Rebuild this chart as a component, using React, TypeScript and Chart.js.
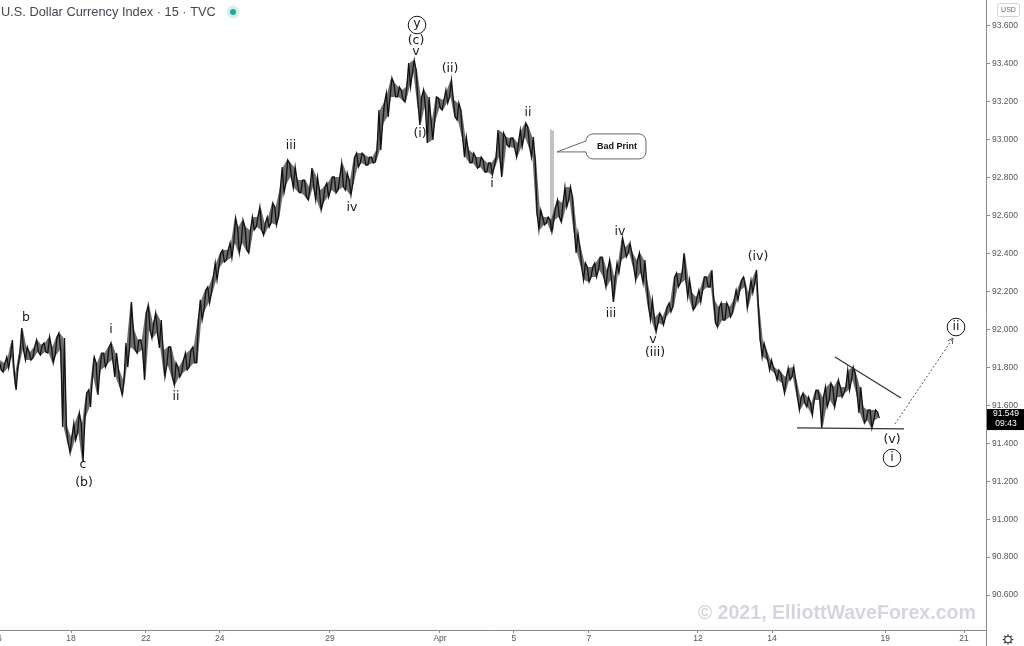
import React, { useEffect, useRef } from "react";
import { Chart, registerables } from "chart.js";

Chart.register(...registerables);

// ---- data (x in trading sessions since Mar 16, price in index points) ----
const X_START = 0.1;
const X_STEP = 0.1;

const highs = [
  91.839, 91.824, 91.855, 91.945, 91.771, 91.876, 92.008, 91.908, 91.881, 91.908,
  91.945, 91.918, 91.929, 91.961, 91.908, 91.961, 91.982, 91.955, 91.486, 91.433,
  91.507, 91.56, 91.507, 91.665, 91.681, 91.855, 91.824, 91.876, 91.876, 91.908,
  91.929, 91.876, 91.787, 91.734, 91.929, 92.145, 91.997, 91.945, 91.945, 92.087,
  92.129, 92.034, 92.087, 92.05, 91.892, 91.908, 91.908, 91.824, 91.802, 91.839,
  91.876, 91.892, 91.908, 92.05, 92.156, 92.208, 92.224, 92.277, 92.351, 92.403,
  92.419, 92.419, 92.456, 92.588, 92.54, 92.577, 92.54, 92.525, 92.593, 92.593,
  92.646, 92.561, 92.593, 92.667, 92.646, 92.735, 92.857, 92.894, 92.878, 92.857,
  92.788, 92.788, 92.788, 92.751, 92.851, 92.804, 92.735, 92.751, 92.772, 92.804,
  92.804, 92.804, 92.878, 92.825, 92.788, 92.909, 92.93, 92.93, 92.92, 92.909,
  92.909, 92.946, 93.157, 93.194, 93.247, 93.326, 93.299, 93.278, 93.263, 93.278,
  93.405, 93.421, 93.368, 93.226, 93.263, 93.226, 93.104, 93.226, 93.22, 93.21,
  93.263, 93.315, 93.21, 93.194, 93.157, 93.015, 92.946, 92.93, 92.909, 92.909,
  92.894, 92.878, 92.878, 92.909, 93.052, 93.036, 93.015, 93.01, 93.01, 92.983,
  93.052, 93.089, 93.068, 93.015, 92.894, 92.63, 92.593, 92.593, 92.577, 92.646,
  92.683, 92.667, 92.751, 92.751, 92.699, 92.509, 92.435, 92.351, 92.33, 92.33,
  92.351, 92.382, 92.382, 92.314, 92.366, 92.277, 92.351, 92.482, 92.435, 92.456,
  92.403, 92.366, 92.403, 92.366, 92.245, 92.156, 92.066, 92.087, 92.066, 92.119,
  92.14, 92.277, 92.298, 92.298, 92.403, 92.261, 92.193, 92.171, 92.208, 92.277,
  92.277, 92.314, 92.156, 92.119, 92.14, 92.14, 92.119, 92.156, 92.208, 92.261,
  92.277, 92.193, 92.261, 92.314, 92.119, 91.929, 91.892, 91.839, 91.802, 91.787,
  91.771, 91.75, 91.797, 91.802, 91.734, 91.644, 91.665, 91.644, 91.613, 91.681,
  91.681, 91.644, 91.697, 91.718, 91.697, 91.734, 91.697, 91.697, 91.787, 91.802,
  91.771, 91.697, 91.592, 91.576, 91.576, 91.576, 91.565,
];

const lows = [
  91.787, 91.776, 91.797, 91.855, 91.681, 91.802, 91.892, 91.839, 91.839, 91.85,
  91.881, 91.866, 91.881, 91.876, 91.824, 91.866, 91.892, 91.486, 91.402, 91.349,
  91.418, 91.455, 91.302, 91.539, 91.592, 91.75, 91.655, 91.787, 91.802, 91.824,
  91.839, 91.75, 91.697, 91.655, 91.802, 91.908, 91.892, 91.876, 91.892, 91.734,
  91.997, 91.955, 91.982, 91.903, 91.75, 91.813, 91.75, 91.708, 91.75, 91.771,
  91.787, 91.802, 91.824, 91.824, 92.05, 92.103, 92.14, 92.193, 92.261, 92.33,
  92.356, 92.366, 92.377, 92.456, 92.403, 92.456, 92.419, 92.403, 92.525, 92.54,
  92.525, 92.498, 92.54, 92.561, 92.551, 92.593, 92.72, 92.772, 92.804, 92.746,
  92.725, 92.72, 92.699, 92.683, 92.751, 92.683, 92.63, 92.672, 92.699, 92.735,
  92.72, 92.735, 92.751, 92.735, 92.709, 92.772, 92.857, 92.878, 92.867, 92.867,
  92.878, 92.883, 92.946, 93.089, 93.12, 93.226, 93.226, 93.226, 93.21, 93.199,
  93.278, 93.352, 93.194, 93.078, 93.173, 92.983, 92.999, 93.104, 93.168, 93.157,
  93.194, 93.226, 93.12, 93.104, 93.015, 92.909, 92.878, 92.878, 92.851, 92.857,
  92.83, 92.83, 92.815, 92.857, 92.909, 92.804, 92.973, 92.962, 92.957, 92.909,
  92.962, 93.015, 92.962, 92.909, 92.614, 92.525, 92.551, 92.561, 92.514, 92.577,
  92.593, 92.567, 92.646, 92.683, 92.525, 92.403, 92.33, 92.261, 92.251, 92.277,
  92.277, 92.314, 92.277, 92.224, 92.261, 92.145, 92.298, 92.366, 92.382, 92.403,
  92.33, 92.261, 92.298, 92.245, 92.119, 92.05, 91.987, 92.034, 92.024, 92.066,
  92.093, 92.119, 92.224, 92.245, 92.261, 92.171, 92.103, 92.119, 92.145, 92.208,
  92.224, 92.224, 92.034, 92.013, 92.05, 92.05, 92.066, 92.087, 92.156, 92.208,
  92.224, 92.114, 92.193, 92.245, 91.945, 91.855, 91.839, 91.787, 91.771, 91.734,
  91.718, 91.665, 91.734, 91.75, 91.644, 91.576, 91.613, 91.592, 91.549, 91.628,
  91.628, 91.481, 91.592, 91.628, 91.592, 91.644, 91.644, 91.665, 91.681, 91.734,
  91.665, 91.56, 91.507, 91.523, 91.481, 91.523, 91.533,
];

const badPrintX = [14.9, 14.955];
const badPrintHigh = [93.052, 93.047];
const badPrintLow = [92.514, 92.525];

const yTicks = [90.6, 90.8, 91.0, 91.2, 91.4, 91.6, 91.8, 92.0, 92.2, 92.4, 92.6, 92.8, 93.0, 93.2, 93.4, 93.6];
const xTickPos = [0.011, 2.0, 4.015, 6.0, 8.96, 11.917, 13.9, 15.92, 18.85, 20.84, 23.88, 26.0];
const xTickLabels = ["16", "18", "22", "24", "29", "Apr", "5", "7", "12", "14", "19", "21"];

const waveText = ["b", "c", "(b)", "i", "ii", "iii", "iv", "y", "(c)", "v", "(i)", "(ii)", "i", "ii", "iv", "iii", "v", "(iii)", "(iv)", "(v)", "i", "ii"];
const waveX = [0.79, 2.322, 2.349, 3.075, 4.822, 7.913, 9.552, 11.299, 11.272, 11.272, 11.38, 12.186, 13.315, 14.282, 16.755, 16.513, 17.642, 17.695, 20.463, 24.065, 24.065, 25.785];
const waveY = [92.061, 91.286, 91.191, 91.997, 91.644, 92.967, 92.641, 93.605, 93.521, 93.463, 93.031, 93.373, 92.767, 93.141, 92.514, 92.082, 91.945, 91.876, 92.382, 91.418, 91.323, 92.013];
const waveCircled = [false, false, false, false, false, false, false, true, false, false, false, false, false, false, false, false, false, false, false, false, true, true];

const triUpperX = [22.533, 24.307];
const triUpperY = [91.855, 91.639];
const triLowerX = [21.512, 24.387];
const triLowerY = [91.481, 91.476];
const projX = [24.146, 25.704];
const projY = [91.502, 91.955];

const calloutTipX = 15.061;
const calloutTipY = 92.936;
const calloutBoxX = 15.841;
const calloutBoxY = 93.031;

const lastPrice = 91.549;
const lastTime = "09:43";
const title = "U.S. Dollar Currency Index · 15 · TVC";
const watermark = "© 2021, ElliottWaveForex.com";

const X_MIN = 0.0918;
const X_MAX = 26.591;
const Y_MIN = 90.416;
const Y_MAX = 93.737;

const AXIS = "#8a8a8a";

const overlay = {
  id: "overlay",
  afterDraw(chart: any) {
    const ctx = chart.ctx as CanvasRenderingContext2D;
    const xs = chart.scales.x;
    const ys = chart.scales.y;
    const px = (v: number) => xs.getPixelForValue(v);
    const py = (v: number) => ys.getPixelForValue(v);
    ctx.save();

    // arrow head on projection
    {
      const x1 = px(projX[0]), y1 = py(projY[0]);
      const x2 = px(projX[1]), y2 = py(projY[1]);
      const a = Math.atan2(y2 - y1, x2 - x1);
      ctx.strokeStyle = "#555";
      ctx.lineWidth = 1;
      ctx.beginPath();
      ctx.moveTo(x2 - 6 * Math.cos(a - 0.5), y2 - 6 * Math.sin(a - 0.5));
      ctx.lineTo(x2, y2);
      ctx.lineTo(x2 - 6 * Math.cos(a + 0.5), y2 - 6 * Math.sin(a + 0.5));
      ctx.stroke();
    }

    // wave labels
    ctx.fillStyle = "#131722";
    ctx.strokeStyle = "#131722";
    ctx.textAlign = "center";
    ctx.textBaseline = "middle";
    ctx.font = '12.5px "DejaVu Sans"';
    for (let i = 0; i < waveText.length; i++) {
      const x = px(waveX[i]);
      const y = py(waveY[i]);
      if (waveCircled[i]) {
        ctx.lineWidth = 1;
        ctx.beginPath();
        ctx.arc(x, y, 8.8, 0, Math.PI * 2);
        ctx.stroke();
      }
      ctx.fillText(waveText[i], x, y + (waveText[i] === "y" ? -1 : 0));
    }

    // Bad Print callout
    {
      const bx = px(calloutBoxX), by = py(calloutBoxY);
      const bw = 60, bh = 25, r = 7;
      const tx = px(calloutTipX), ty = py(calloutTipY);
      ctx.fillStyle = "#fff";
      ctx.strokeStyle = "#666";
      ctx.lineWidth = 1;
      ctx.beginPath();
      ctx.moveTo(bx + r, by);
      ctx.lineTo(bx + bw - r, by);
      ctx.arcTo(bx + bw, by, bx + bw, by + r, r);
      ctx.lineTo(bx + bw, by + bh - r);
      ctx.arcTo(bx + bw, by + bh, bx + bw - r, by + bh, r);
      ctx.lineTo(bx + r, by + bh);
      ctx.arcTo(bx, by + bh, bx, by + bh - r, r);
      ctx.lineTo(bx, by + 18);
      ctx.lineTo(tx, ty);
      ctx.lineTo(bx, by + 7);
      ctx.arcTo(bx, by, bx + r, by, r);
      ctx.closePath();
      ctx.fill();
      ctx.stroke();
      ctx.fillStyle = "#111";
      ctx.font = 'bold 9px "Liberation Sans"';
      ctx.fillText("Bad Print", bx + bw / 2 + 1, by + bh / 2);
    }

    // header
    ctx.textAlign = "left";
    ctx.fillStyle = "#434651";
    ctx.font = '12.8px "Liberation Sans"';
    ctx.fillText(title, 1, 12);
    ctx.fillStyle = "rgba(34,171,148,0.18)";
    ctx.beginPath();
    ctx.arc(233, 12, 6.5, 0, Math.PI * 2);
    ctx.fill();
    ctx.fillStyle = "#22ab94";
    ctx.beginPath();
    ctx.arc(233, 12, 3, 0, Math.PI * 2);
    ctx.fill();

    // watermark
    ctx.textAlign = "right";
    ctx.textBaseline = "alphabetic";
    ctx.fillStyle = "#d3d6dd";
    ctx.font = 'bold 19.6px "Liberation Sans"';
    ctx.fillText(watermark, 976, 619);

    // right axis extras
    const ax = chart.chartArea.right;
    ctx.strokeStyle = AXIS;
    ctx.lineWidth = 1;
    ctx.beginPath();
    ctx.moveTo(Math.round(ax) + 0.5, chart.chartArea.bottom);
    ctx.lineTo(Math.round(ax) + 0.5, 646);
    ctx.stroke();

    // USD box
    ctx.strokeStyle = "#d0d3da";
    ctx.beginPath();
    (ctx as any).roundRect(997.5, 3.5, 22, 13, 2);
    ctx.stroke();
    ctx.fillStyle = "#666";
    ctx.font = '7px "Liberation Sans"';
    ctx.textAlign = "center";
    ctx.textBaseline = "middle";
    ctx.fillText("USD", 1008.5, 10);

    // last price box
    const lp = py(lastPrice);
    ctx.fillStyle = "#000";
    ctx.fillRect(ax + 1, lp - 6, 1024 - ax - 1, 21);
    ctx.fillStyle = "#fff";
    ctx.font = '8.5px "Liberation Sans"';
    ctx.fillText(lastPrice.toFixed(3), 1006, lp - 1);
    ctx.fillText(lastTime, 1006, lp + 8.5);

    // gear icon
    ctx.strokeStyle = "#333";
    ctx.lineWidth = 1.1;
    const gx = 1008, gy = 639.5;
    ctx.beginPath();
    ctx.arc(gx, gy, 3.3, 0, Math.PI * 2);
    ctx.stroke();
    for (let k = 0; k < 8; k++) {
      const a = (k * Math.PI) / 4;
      ctx.beginPath();
      ctx.moveTo(gx + 3.3 * Math.cos(a), gy + 3.3 * Math.sin(a));
      ctx.lineTo(gx + 5.3 * Math.cos(a), gy + 5.3 * Math.sin(a));
      ctx.stroke();
    }
    ctx.restore();
  },
};

export default function App() {
  const ref = useRef<HTMLCanvasElement | null>(null);
  useEffect(() => {
    if (!ref.current) return;
    // zig-zag through each sample's high and low, like dense candle wicks
    const zig: { x: number; y: number }[] = [];
    highs.forEach((h, i) => {
      const x = X_START + X_STEP * i;
      const l = lows[i];
      if (i % 2 === 0) {
        zig.push({ x: x - X_STEP * 0.25, y: h }, { x: x + X_STEP * 0.25, y: l });
      } else {
        zig.push({ x: x - X_STEP * 0.25, y: l }, { x: x + X_STEP * 0.25, y: h });
      }
    });
    const lowLine = lows.map((l, i) => ({ x: X_START + X_STEP * i, y: l }));
    const highLine = highs.map((h, i) => ({ x: X_START + X_STEP * i, y: h }));
    const badData = badPrintX.map((x, i) => ({ x, y: [badPrintLow[i], badPrintHigh[i]] }));
    const chart = new Chart(ref.current, {
      type: "bar",
      data: {
        datasets: [
          {
            type: "bar",
            data: badData as any,
            backgroundColor: "#b5b5b5",
            barThickness: 1,
            grouped: false,
            borderWidth: 0,
            order: 5,
          } as any,
          {
            type: "line",
            data: lowLine,
            borderWidth: 0,
            borderColor: "rgba(0,0,0,0)",
            pointRadius: 0,
            fill: false,
            order: 4,
          } as any,
          {
            type: "line",
            data: highLine,
            borderWidth: 0,
            borderColor: "rgba(0,0,0,0)",
            backgroundColor: "rgba(20,20,20,0.62)",
            pointRadius: 0,
            fill: 1,
            order: 4,
          } as any,
          {
            type: "line",
            data: zig,
            borderColor: "#111",
            borderWidth: 1.3,
            pointRadius: 0,
            tension: 0,
            order: 2,
          } as any,
          {
            type: "line",
            data: triUpperX.map((x, i) => ({ x, y: triUpperY[i] })),
            borderColor: "#333",
            borderWidth: 1.3,
            pointRadius: 0,
            order: 1,
          } as any,
          {
            type: "line",
            data: triLowerX.map((x, i) => ({ x, y: triLowerY[i] })),
            borderColor: "#333",
            borderWidth: 1.3,
            pointRadius: 0,
            order: 1,
          } as any,
          {
            type: "line",
            data: projX.map((x, i) => ({ x, y: projY[i] })),
            borderColor: "#555",
            borderWidth: 1,
            borderDash: [2, 2],
            pointRadius: 0,
            order: 1,
          } as any,
        ],
      },
      options: {
        responsive: false,
        animation: false,
        devicePixelRatio: 1,
        layout: { padding: 0 },
        plugins: { legend: { display: false }, tooltip: { enabled: false } },
        scales: {
          x: {
            type: "linear",
            min: X_MIN,
            max: X_MAX,
            offset: false,
            afterBuildTicks: (s: any) => {
              s.ticks = xTickPos.map((v) => ({ value: v }));
            },
            afterFit: (s: any) => {
              s.height = 16;
              s.paddingLeft = 0;
              s.paddingRight = 0;
            },
            ticks: {
              autoSkip: false,
              maxRotation: 0,
              padding: 1,
              color: "#555",
              font: { family: "Liberation Sans", size: 8.5 },
              callback: (_v: any, i: number) => xTickLabels[i],
            },
            grid: { offset: false, drawOnChartArea: false, drawTicks: true, tickLength: 3, color: AXIS },
            border: { display: true, color: AXIS },
          },
          y: {
            type: "linear",
            position: "right",
            min: Y_MIN,
            max: Y_MAX,
            afterBuildTicks: (s: any) => {
              s.ticks = yTicks.map((v) => ({ value: v }));
            },
            afterFit: (s: any) => {
              s.width = 38;
              s.paddingTop = 0;
              s.paddingBottom = 0;
            },
            ticks: {
              padding: 2,
              color: "#555",
              font: { family: "Liberation Sans", size: 8.5 },
              callback: (v: any) => Number(v).toFixed(3),
            },
            grid: { drawOnChartArea: false, drawTicks: true, tickLength: 4, color: AXIS },
            border: { display: true, color: AXIS },
          },
        },
      } as any,
      plugins: [overlay],
    });
    return () => chart.destroy();
  }, []);
  return (
    <div style={{ position: "fixed", left: 0, top: 0, width: 1024, height: 646, background: "#fff" }}>
      <canvas ref={ref} width={1024} height={646} style={{ width: 1024, height: 646, display: "block" }} />
    </div>
  );
}
